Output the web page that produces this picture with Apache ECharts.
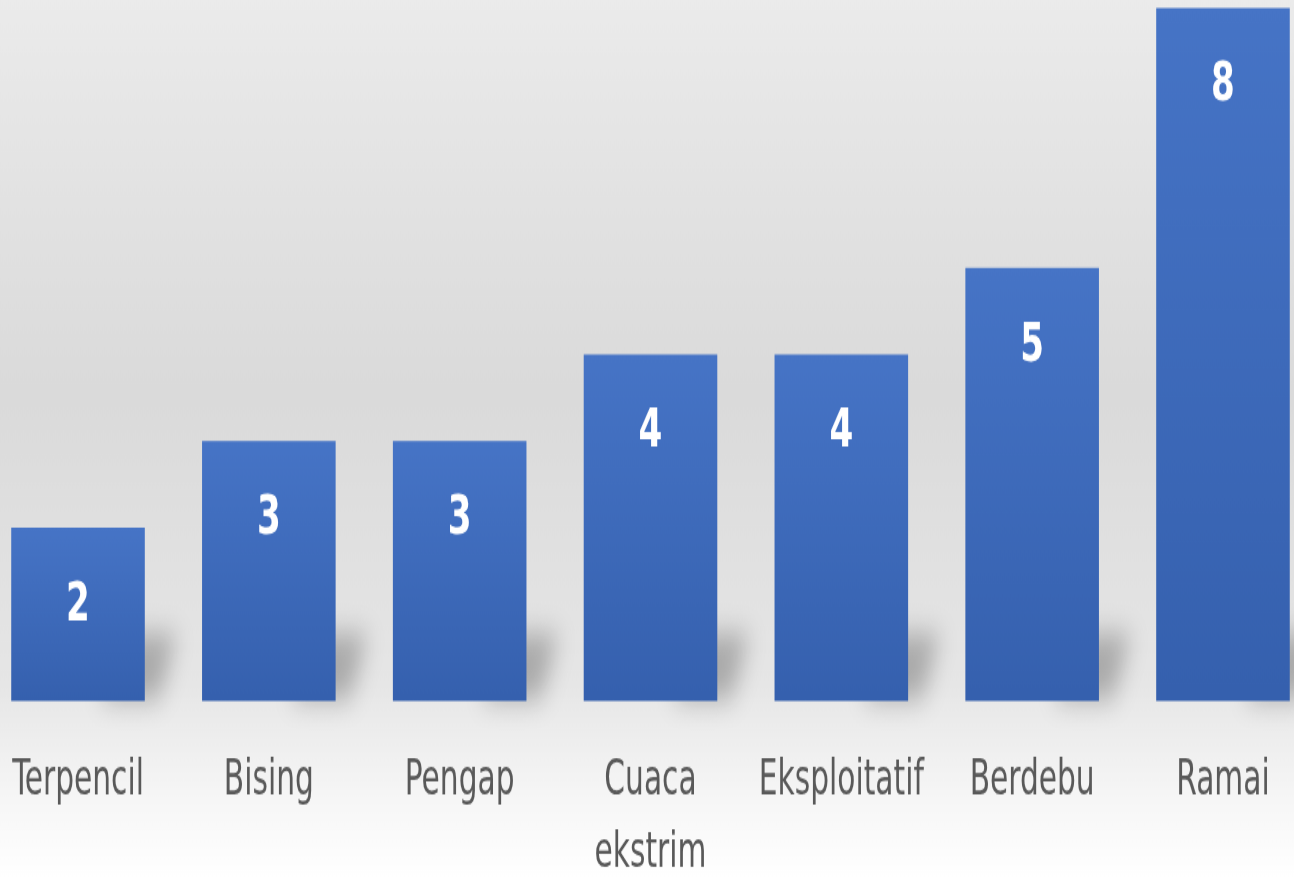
<!DOCTYPE html>
<html>
<head>
<meta charset="utf-8">
<script src="https://cdn.jsdelivr.net/npm/echarts@6/dist/echarts.min.js"></script>
<style>
  html, body { margin: 0; padding: 0; }
  #frame { width: 1294px; height: 877px; position: relative; overflow: hidden; background: #ffffff; }
  /* the chart is laid out at a shorter height and stretched vertically for its tall, narrow lettering */
  #chart { position: absolute; left: 0; top: 0; width: 1294px; height: 605px; transform: scaleY(1.44959); transform-origin: 0 0; }
</style>
</head>
<body>
<div id="frame"><div id="chart"></div></div>
<script>
// Kategori lingkungan kerja dan jumlah responden
const categories = ['Terpencil', 'Bising', 'Pengap', 'Cuaca\nekstrim', 'Eksploitatif', 'Berdebu', 'Ramai'];
const values = [2, 3, 3, 4, 4, 5, 8];

const chart = echarts.init(document.getElementById('chart'), null, { renderer: 'canvas' });

// soft floor shadow cast to the right of each bar (shape drawn off-canvas, only its blurred shadow shows)
function renderShadow(params, api) {
  const i = api.value(0);
  const base = api.coord([i, 0]);
  const band = api.size([1, 0])[0];
  const barW = band * 0.7;
  const xr = base[0] + barW / 2;
  const yb = base[1];
  const shift = 4000;
  return {
    type: 'polygon',
    shape: {
      points: [
        [xr - 45 - shift, yb - 1],
        [xr - 15 - shift, yb - 46],
        [xr + 32 - shift, yb - 46],
        [xr + 14 - shift, yb - 1]
      ]
    },
    style: {
      fill: '#000',
      shadowColor: 'rgba(0,0,0,0.26)',
      shadowBlur: 20,
      shadowOffsetX: shift,
      shadowOffsetY: 0
    }
  };
}

const labelFont = '"DejaVu Sans Condensed", "Liberation Sans Narrow", sans-serif';

chart.setOption({
  animation: false,
  backgroundColor: {
    type: 'linear', x: 0, y: 0, x2: 0, y2: 1,
    colorStops: [
      { offset: 0, color: '#ebebeb' },
      { offset: 0.45, color: '#dadada' },
      { offset: 0.78, color: '#e6e6e6' },
      { offset: 0.9, color: '#f5f5f5' },
      { offset: 1, color: '#ffffff' }
    ]
  },
  grid: {
    left: -17.4, width: 1335.8, top: 5.5, bottom: 121.4,
    containLabel: false,
    outerBoundsMode: 'none'
  },
  xAxis: {
    type: 'category',
    data: categories,
    axisLine: { show: false },
    axisTick: { show: false },
    axisLabel: {
      interval: 0,
      margin: 31,
      color: '#595959',
      fontFamily: labelFont,
      fontSize: 33,
      lineHeight: 50
    }
  },
  yAxis: {
    type: 'value',
    min: 0,
    max: 8,
    show: false,
    splitLine: { show: false }
  },
  series: [
    {
      type: 'custom',
      renderItem: renderShadow,
      data: values.map((v, i) => [i, v]),
      clip: false,
      z: 1,
      silent: true
    },
    {
      type: 'bar',
      data: values,
      barWidth: '70%',
      z: 2,
      itemStyle: {
        color: {
          type: 'linear', x: 0, y: 0, x2: 0, y2: 1,
          colorStops: [
            { offset: 0, color: '#4674c6' },
            { offset: 1, color: '#3560ae' }
          ]
        }
      },
      label: {
        show: true,
        position: 'insideTop',
        distance: 35,
        color: '#ffffff',
        fontWeight: 'bold',
        fontFamily: labelFont,
        fontSize: 38
      }
    }
  ]
});
</script>
</body>
</html>
